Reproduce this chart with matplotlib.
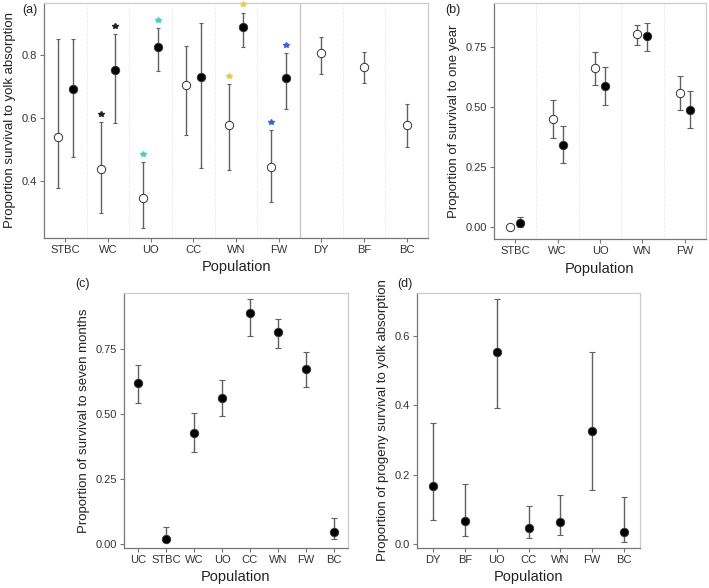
import numpy as np
import matplotlib.pyplot as plt
import matplotlib.transforms as mtransforms

plt.rcParams['font.family'] = ['Liberation Sans', 'DejaVu Sans']

# (a) survival to yolk absorption
pops_a = ["STBC", "WC", "UO", "CC", "WN", "FW", "DY", "BF", "BC"]
open_a = [0.541, 0.437, 0.347, 0.706, 0.578, 0.443, 0.805, 0.763, 0.578]
open_a_lo = [0.379, 0.297, 0.251, 0.545, 0.434, 0.332, 0.740, 0.711, 0.509]
open_a_hi = [0.850, 0.586, 0.459, 0.828, 0.707, 0.561, 0.858, 0.808, 0.643]
pops_a_filled = ["STBC", "WC", "UO", "CC", "WN", "FW"]
filled_a = [0.693, 0.752, 0.826, 0.729, 0.890, 0.726]
filled_a_lo = [0.475, 0.585, 0.748, 0.440, 0.824, 0.628]
filled_a_hi = [0.850, 0.866, 0.885, 0.902, 0.934, 0.805]
star_pops = ["WC", "UO", "WN", "FW"]
star_colors = ["#222222", "#3fd3c3", "#ecc94b", "#3a62dc"]

# (b) survival to one year
pops_b = ["STBC", "WC", "UO", "WN", "FW"]
open_b = [0.0, 0.451, 0.665, 0.804, 0.559]
open_b_lo = [0.0, 0.373, 0.591, 0.758, 0.488]
open_b_hi = [0.0, 0.531, 0.732, 0.843, 0.630]
filled_b = [0.014, 0.341, 0.590, 0.797, 0.490]
filled_b_lo = [0.0, 0.267, 0.509, 0.733, 0.412]
filled_b_hi = [0.042, 0.422, 0.666, 0.850, 0.569]

# (c) survival to seven months
pops_c = ["UC", "STBC", "WC", "UO", "CC", "WN", "FW", "BC"]
vals_c = [0.618, 0.022, 0.429, 0.563, 0.890, 0.815, 0.674, 0.049]
lo_c = [0.542, 0.008, 0.356, 0.491, 0.801, 0.754, 0.604, 0.022]
hi_c = [0.688, 0.067, 0.506, 0.632, 0.942, 0.865, 0.738, 0.100]

# (d) progeny survival to yolk absorption
pops_d = ["DY", "BF", "UO", "CC", "WN", "FW", "BC"]
vals_d = [0.168, 0.066, 0.555, 0.046, 0.0625, 0.325, 0.034]
lo_d = [0.070, 0.023, 0.391, 0.018, 0.027, 0.157, 0.007]
hi_d = [0.349, 0.173, 0.708, 0.109, 0.140, 0.555, 0.137]

W, H = 709, 588
fig = plt.figure(figsize=(W / 100, H / 100), dpi=100)


def make_ax(l, r, t, b):
    return fig.add_axes([l / W, 1 - b / H, (r - l) / W, (b - t) / H])


def style(ax, cats, ylabel, yticks, fmt):
    ax.set_xticks(np.arange(len(cats)))
    ax.set_xticklabels(cats)
    ax.set_xlim(-0.5, len(cats) - 0.5)
    ax.set_yticks(yticks)
    ax.set_yticklabels([fmt.format(v) for v in yticks])
    ax.tick_params(labelsize=8, colors="#333333", length=3, color="#777777",
                   width=0.8, pad=2)
    ax.set_xlabel("Population", fontsize=10.5, color="#222222", labelpad=4)
    ax.set_ylabel(ylabel, fontsize=9.5, color="#222222", labelpad=4)
    for s in ["top", "right"]:
        ax.spines[s].set_color("#cccccc")
    for s in ["left", "bottom"]:
        ax.spines[s].set_color("#777777")
    for s in ax.spines.values():
        s.set_linewidth(0.9)


def points(ax, x, y, lo, hi, face, cap=1.5):
    y = np.array(y)
    err = [y - np.array(lo), np.array(hi) - y]
    ax.errorbar(x, y, yerr=err, fmt="none", ecolor="#606060", elinewidth=1.0,
                capsize=cap, capthick=0.8, zorder=2)
    ax.plot(x, y, "o", ms=6, mfc=face, mec="#333333", mew=0.7, zorder=3)


# panel (a)
ax = make_ax(44, 428, 3, 238)
xa = np.arange(len(pops_a))
for b in np.arange(0.5, len(pops_a) - 1):
    if b == 5.5:
        ax.axvline(b, color="#c8c8c8", lw=1.0, zorder=0)
    else:
        ax.axvline(b, color="#dddddd", lw=0.7, ls=":", zorder=0)
xf = np.array([pops_a.index(p) for p in pops_a_filled])
xo = xa.astype(float)
xo[:len(pops_a_filled)] -= 0.17
points(ax, xo, open_a, open_a_lo, open_a_hi, "white")
points(ax, xf + 0.17, filled_a, filled_a_lo, filled_a_hi, "black")
star_tr = mtransforms.offset_copy(ax.transData, fig=fig, y=6, units="points")
for p, c in zip(star_pops, star_colors):
    i = pops_a.index(p)
    j = pops_a_filled.index(p)
    ax.plot([xo[i], xf[j] + 0.17], [open_a_hi[i], filled_a_hi[j]], "*", ms=4,
            color=c, transform=star_tr, clip_on=False, zorder=4)
ax.set_ylim(0.219, 0.965)
style(ax, pops_a, "Proportion survival to yolk absorption", [0.4, 0.6, 0.8], "{:.1f}")

# panel (b)
ax = make_ax(494, 706, 3, 239)
xb = np.arange(len(pops_b))
for b in np.arange(0.5, len(pops_b) - 1):
    ax.axvline(b, color="#dddddd", lw=0.7, ls=":", zorder=0)
points(ax, xb - 0.12, open_b, open_b_lo, open_b_hi, "white", cap=2)
points(ax, xb + 0.12, filled_b, filled_b_lo, filled_b_hi, "black", cap=2)
ax.set_ylim(-0.051, 0.935)
style(ax, pops_b, "Proportion of survival to one year", [0, 0.25, 0.5, 0.75], "{:.2f}")

# panel (c)
ax = make_ax(124, 348, 293, 548)
points(ax, np.arange(len(pops_c)), vals_c, lo_c, hi_c, "black", cap=2)
ax.set_ylim(-0.014, 0.965)
style(ax, pops_c, "Proportion of survival to seven months", [0, 0.25, 0.5, 0.75], "{:.2f}")

# panel (d)
ax = make_ax(417, 640, 293, 548)
points(ax, np.arange(len(pops_d)), vals_d, lo_d, hi_d, "black", cap=2)
ax.set_ylim(-0.0115, 0.724)
style(ax, pops_d, "Proportion of progeny survival to yolk absorption", [0, 0.2, 0.4, 0.6], "{:.1f}")

for lab, x, y in [("(a)", 30, 10), ("(b)", 453, 10), ("(c)", 83, 284), ("(d)", 405, 284)]:
    fig.text(x / W, 1 - y / H, lab, fontsize=9, color="#222222", ha="center", va="center")

fig.savefig("out.png", dpi=100)
